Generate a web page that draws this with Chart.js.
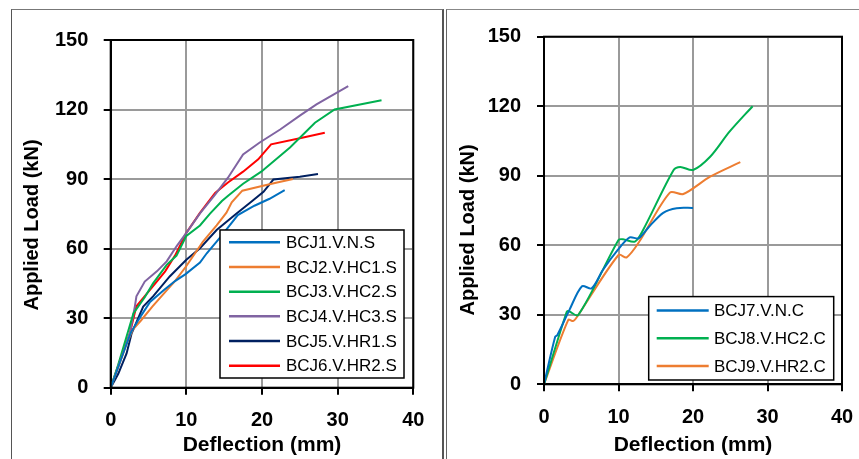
<!DOCTYPE html>
<html>
<head>
<meta charset="utf-8">
<script src="https://cdn.jsdelivr.net/npm/chart.js@4.4.1/dist/chart.umd.min.js"></script>
<style>
  body { margin:0; background:#fff; width:859px; height:459px; overflow:hidden; position:relative; }
  .panel { position:absolute; }
  canvas { position:absolute; top:0; }
</style>
</head>
<body>
<div class="panel" style="left:11px;top:9px;width:430px;height:460px;border-left:1px solid #555;border-top:1px solid #777;border-right:2px solid #555;"></div>
<div class="panel" style="left:446px;top:9px;width:420px;height:460px;border-left:1px solid #666;border-top:1px solid #888;"></div>
<canvas id="c1" width="440" height="459" style="left:0px"></canvas>
<canvas id="c2" width="419" height="459" style="left:440px"></canvas>
<script>
// ---------- DATA ----------
const xTicks = [0, 10, 20, 30, 40];
const yTicks = [0, 30, 60, 90, 120, 150];

const leftLabels  = ['BCJ1.V.N.S', 'BCJ2.V.HC1.S', 'BCJ3.V.HC2.S', 'BCJ4.V.HC3.S', 'BCJ5.V.HR1.S', 'BCJ6.V.HR2.S'];
const rightLabels = ['BCJ7.V.N.C', 'BCJ8.V.HC2.C', 'BCJ9.V.HR2.C'];

const bcj1X = [0, 1.0, 2.0, 2.7, 4.0, 5.2, 7.0, 8.5, 9.9, 11.8, 12.7, 14.5, 16.8, 19.0, 21.0, 23.0];
const bcj1Y = [0, 9, 18, 24, 31, 37, 42, 46, 49, 54, 58, 65, 74.5, 78.5, 81.5, 85.2];

const bcj2X = [0, 1, 2, 2.9, 4, 5.5, 7.4, 8.5, 10, 12.2, 14, 15.3, 16, 17.4, 20, 22, 24.1];
const bcj2Y = [0, 9, 18, 25, 29, 35, 42, 46, 52.5, 63, 70, 75.5, 80, 85, 87, 88.5, 90];

const bcj3X = [0, 1, 2, 3.0, 4.5, 5.6, 7.4, 8.7, 10, 11.8, 13.1, 14.7, 15.6, 17.5, 19.9, 23.7, 27, 29.6, 35.8];
const bcj3Y = [0, 10, 21, 32, 39, 45, 53, 57, 65.5, 70, 75, 80.5, 83, 88, 93.2, 103.6, 114.3, 120, 124];

const bcj4X = [0, 1.25, 2.55, 3.2, 3.4, 4.5, 6.1, 7.4, 8.7, 10, 11.8, 13.8, 15.5, 17.5, 19.7, 22.4, 25, 27.2, 31.4];
const bcj4Y = [0, 12, 23.7, 35.2, 39.4, 45.8, 50.2, 54.5, 61, 66.8, 75.2, 83.3, 90.6, 100.6, 105.8, 111.4, 117.4, 122.2, 130.1];

const bcj5X = [0, 1, 2.1, 2.77, 4.3, 5.6, 7.8, 10, 11.8, 14, 16.6, 18.5, 20.2, 21.5, 25, 27.4];
const bcj5Y = [0, 6, 14.8, 23.5, 35, 39.4, 48, 55.2, 60.2, 68, 75, 80, 84.5, 89.8, 91, 92.2];

const bcj6X = [0, 1.2, 2.55, 3.4, 5.6, 7.2, 8.5, 10, 11.8, 13.8, 15.5, 17.5, 19.5, 21.2, 25, 28.3];
const bcj6Y = [0, 11, 23.7, 35.2, 43.8, 50.2, 57, 66.8, 75.4, 84, 88.5, 93.2, 98.5, 105, 107.6, 110];

const bcj7X = [0, 1.5, 1.8, 3.4, 5.1, 6.4, 7.9, 9.9, 11.5, 12.7, 14.1, 16, 17.8, 20];
const bcj7Y = [0, 20.5, 21.3, 32, 42.3, 41.4, 49.3, 58, 63.4, 63, 68, 74, 76, 76.1];

const bcj8X = [0, 3.05, 3.3, 4.6, 10, 10.6, 12.2, 13.3, 17.4, 18.3, 20, 22.3, 24.9, 28];
const bcj8Y = [0, 31.3, 31.6, 29.9, 62.3, 62.6, 61.6, 66.6, 92.5, 93.8, 92.5, 98.2, 109, 120];

const bcj9X = [0, 3.26, 3.9, 4.3, 10, 11.1, 12.8, 16.9, 18.7, 22.3, 26.35];
const bcj9Y = [0, 27.8, 27.3, 28.5, 55.8, 54.8, 61.6, 82.7, 82.1, 89.6, 95.9];

const leftColors  = ['#0070C0', '#ED7D31', '#00B050', '#8064A2', '#002060', '#FF0000'];
const rightColors = ['#0070C0', '#00B050', '#ED7D31'];

// ---------- BUILD ----------
function pts(xs, ys) { return xs.map((x, i) => ({ x: x, y: ys[i] })); }

Chart.defaults.font.family = "'Liberation Sans', Arial, sans-serif";
Chart.defaults.color = '#000';

const framePlugin = {
  id: 'frameLegend',
  afterDatasetsDraw(chart, args, o) {
    const ctx = chart.ctx, a = chart.chartArea;
    ctx.save();
    // plot frame
    ctx.strokeStyle = '#000';
    ctx.lineWidth = 2;
    ctx.strokeRect(a.left, a.top, a.right - a.left, a.bottom - a.top);
    // legend box
    const ds = chart.data.datasets;
    const h = o.rowH * ds.length;
    const bx = a.right - o.right - o.width;
    const by = a.bottom - o.bottom - h;
    ctx.fillStyle = '#fff';
    ctx.fillRect(bx, by, o.width, h);
    ctx.lineWidth = 1.5;
    ctx.strokeStyle = '#000';
    ctx.strokeRect(bx, by, o.width, h);
    ctx.font = o.fontSize + "px 'Liberation Sans', Arial, sans-serif";
    ctx.textBaseline = 'middle';
    ctx.textAlign = 'left';
    ds.forEach((d, i) => {
      const cy = by + o.rowH * (i + 0.5);
      ctx.strokeStyle = d.borderColor;
      ctx.lineWidth = 2.5;
      ctx.beginPath();
      ctx.moveTo(bx + o.line0, cy);
      ctx.lineTo(bx + o.line1, cy);
      ctx.stroke();
      ctx.fillStyle = '#000';
      ctx.fillText(d.label, bx + o.textX, cy + 1);
    });
    ctx.restore();
  }
};

function makeChart(id, labels, colors, series, tension, geo) {
  const datasets = series.map((s, i) => ({
    label: labels[i],
    data: pts(s[0], s[1]),
    borderColor: colors[i],
    backgroundColor: colors[i],
    borderWidth: 2,
    pointRadius: 0,
    tension: tension,
    fill: false
  }));
  return new Chart(document.getElementById(id), {
    type: 'line',
    data: { datasets: datasets },
    plugins: [framePlugin],
    options: {
      responsive: false,
      animation: false,
      layout: { padding: { left: 0, right: geo.padRight, top: geo.padTop, bottom: 0 } },
      plugins: {
        legend: { display: false },
        tooltip: { enabled: false },
        frameLegend: geo.legend
      },
      scales: {
        x: {
          type: 'linear', min: 0, max: 40,
          afterBuildTicks: (sc) => { sc.ticks = xTicks.map(v => ({ value: v })); },
          afterFit: (sc) => { sc.height = geo.xH; sc.paddingLeft = 0; sc.paddingRight = 0; },
          ticks: { font: { size: 20, weight: 'bold' }, padding: geo.xTickPad, maxRotation: 0 },
          grid: { color: '#9a9a9a', lineWidth: 2, tickColor: '#000', tickLength: 7 },
          border: { color: '#000', width: 2 },
          title: { display: true, text: 'Deflection (mm)', font: { size: 21, weight: 'bold' }, padding: { top: 0, bottom: geo.xTitlePad } }
        },
        y: {
          type: 'linear', min: 0, max: 150,
          afterBuildTicks: (sc) => { sc.ticks = yTicks.map(v => ({ value: v })); },
          afterFit: (sc) => { sc.width = geo.yW; sc.paddingTop = 0; sc.paddingBottom = 0; },
          ticks: { font: { size: 20, weight: 'bold' }, padding: geo.yTickPad },
          grid: { color: '#9a9a9a', lineWidth: 2, tickColor: '#000', tickLength: 7 },
          border: { color: '#000', width: 2 },
          title: { display: true, text: 'Applied Load (kN)' + geo.yTitleShift, font: { size: 20, weight: 'bold' }, padding: { top: geo.yTitlePad, bottom: 0 } }
        }
      }
    }
  });
}

makeChart('c1', leftLabels, leftColors,
  [[bcj1X, bcj1Y], [bcj2X, bcj2Y], [bcj3X, bcj3Y], [bcj4X, bcj4Y], [bcj5X, bcj5Y], [bcj6X, bcj6Y]], 0,
  { padRight: 26.7, padTop: 40, xH: 71.3, yW: 110.7, xTickPad: 14, yTickPad: 15.4, xTitlePad: 1, yTitlePad: 20,
    yTitleShift: '\u00a0\u00a0\u00a0\u00a0',
    legend: { right: 9.3, bottom: 9.7, width: 184, rowH: 24.67, line0: 9, line1: 60, textX: 66, fontSize: 17 } });

makeChart('c2', rightLabels, rightColors,
  [[bcj7X, bcj7Y], [bcj8X, bcj8Y], [bcj9X, bcj9Y]], 0.3,
  { padRight: 17, padTop: 36.7, xH: 74.7, yW: 104, xTickPad: 14, yTickPad: 16, xTitlePad: 1, yTitlePad: 16,
    yTitleShift: '\u00a0\u00a0\u00a0\u00a0\u00a0\u00a0\u00a0',
    legend: { right: 8.3, bottom: 4.3, width: 185, rowH: 27.8, line0: 8, line1: 60, textX: 65.3, fontSize: 17 } });
</script>
</body>
</html>
